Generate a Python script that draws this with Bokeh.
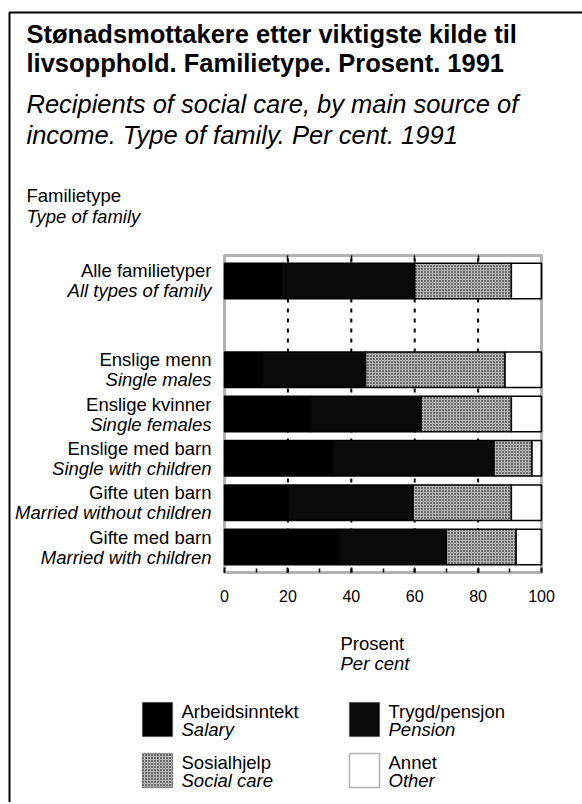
from bokeh.plotting import figure
from bokeh.models import (ColumnDataSource, Range1d, LinearAxis, FixedTicker,
                          SingleIntervalTicker, Label, LabelSet, BoxAnnotation)
from bokeh.transform import stack
from bokeh.core.properties import value
from bokeh.embed import file_html
from bokeh.resources import INLINE

# ---------------- data ----------------
categories = ["Alle familietyper", "Enslige menn", "Enslige kvinner",
              "Enslige med barn", "Gifte uten barn", "Gifte med barn"]
categories_en = ["All types of family", "Single males", "Single females",
                 "Single with children", "Married without children", "Married with children"]
salary = [18, 12, 27, 34, 20, 36]
pension = [42, 32.5, 35, 51, 39.5, 34]
social = [30.5, 44, 28.5, 12, 31, 22]
other = [9.5, 11.5, 9.5, 3, 9.5, 8]
series_keys = ["salary", "pension", "social", "other"]
series_no = ["Arbeidsinntekt", "Trygd/pensjon", "Sosialhjelp", "Annet"]
series_en = ["Salary", "Pension", "Social care", "Other"]
series_colors = ["#000000", "#0a0a0a", "#b4b4b4", "#ffffff"]
series_hatch = [None, None, ".", None]
x_ticks = [0, 20, 40, 60, 80, 100]
blank_row = " "

title_no = ["Stønadsmottakere etter viktigste kilde til", "livsopphold. Familietype. Prosent. 1991"]
title_en = ["Recipients of social care, by main source of", "income. Type of family. Per cent. 1991"]
ylab_no, ylab_en = "Familietype", "Type of family"
xlab_no, xlab_en = "Prosent", "Per cent"

FONT = "Liberation Sans"

# row slots bottom -> top, with an empty slot under "Alle familietyper"
factors = list(reversed(categories[1:])) + [blank_row, categories[0]]
row_y = [factors.index(c) + 0.5 for c in categories]
pad = 0.075
y_lo, y_hi = -pad, len(factors) + pad

src = ColumnDataSource(dict(cat=categories, cat_en=categories_en, y=row_y, salary=salary,
                            pension=pension, social=social, other=other))

# ---------------- page geometry (pixels) ----------------
W, H = 582, 802
PX_L, PX_R = 224, 541      # chart frame left / right
PY_T, PY_B = 255, 572      # chart frame top / bottom
kx = (PX_R - PX_L) / (x_ticks[-1] - x_ticks[0])
ky = (PY_B - PY_T) / (y_hi - y_lo)
def dx(px):
    return x_ticks[0] + (px - PX_L) / kx
def dy(py):
    return y_lo + (PY_B - py) / ky

p = figure(width=W, height=H, output_backend="svg", toolbar_location=None,
           x_range=Range1d(dx(0), dx(W)), y_range=Range1d(dy(H), dy(0)),
           x_axis_location=None, y_axis_location=None,
           min_border=0, min_border_left=0, min_border_right=0,
           min_border_top=0, min_border_bottom=0)
p.background_fill_color = "white"
p.border_fill_color = "white"
p.outline_line_color = None
p.grid.visible = False

# outer box: left and top edges (right / bottom lie outside the page)
p.line(x=[dx(9), dx(9), dx(W + 50)], y=[dy(H + 50), dy(12), dy(12)],
       line_color="black", line_width=2)

# dashed grid lines inside the chart frame
gx = x_ticks[1:-1]
p.segment(x0=gx, x1=gx, y0=[y_lo] * len(gx), y1=[y_hi] * len(gx),
          line_color="black", line_width=2, line_dash="4 6", level="underlay")

# stacked bars
for i, key in enumerate(series_keys):
    kw = dict(y="y", height=0.8, left=stack(*series_keys[:i]), right=stack(*series_keys[:i + 1]),
              source=src, fill_color=series_colors[i], line_color="black", line_width=1.5)
    if series_hatch[i]:
        kw.update(hatch_pattern=series_hatch[i], hatch_color="black", hatch_scale=3, hatch_weight=1.3)
    p.hbar(**kw)

# chart frame
p.add_layout(BoxAnnotation(left=x_ticks[0], right=x_ticks[-1], bottom=y_lo, top=y_hi,
                           fill_alpha=0, line_color="black", line_width=3, level="overlay"))

# axes at the chart frame
xb = LinearAxis(fixed_location=y_lo, bounds=(x_ticks[0], x_ticks[-1]),
                ticker=SingleIntervalTicker(interval=20, num_minor_ticks=2),
                axis_line_color=None, major_tick_in=5, major_tick_out=0,
                minor_tick_in=4, minor_tick_out=0,
                major_tick_line_width=1.5, minor_tick_line_width=1.5,
                major_label_standoff=17, major_label_text_font=FONT,
                major_label_text_font_size="16px", major_label_text_color="black")
p.add_layout(xb, "below")
xt = LinearAxis(fixed_location=y_hi, bounds=(x_ticks[0], x_ticks[-1]),
                ticker=FixedTicker(ticks=gx), axis_line_color=None,
                major_tick_in=5, major_tick_out=0, minor_tick_in=0, minor_tick_out=0,
                major_tick_line_width=1.5, major_label_text_alpha=0)
p.add_layout(xt, "above")

def lab(text, x, y, size, style="normal", align="left"):
    p.add_layout(Label(x=dx(x), y=dy(y), text=text,
                       text_font=FONT, text_font_size=f"{size}px", text_font_style=style,
                       text_color="black", text_align=align, text_baseline="middle"))

lab(title_no[0], 26, 33, 25.5, "bold")
lab(title_no[1], 26, 62, 25.5, "bold")
lab(title_en[0], 26, 103, 25.5, "italic")
lab(title_en[1], 26, 134, 25.5, "italic")
lab(ylab_no, 26, 195, 18.5)
lab(ylab_en, 26, 216, 18.5, "italic")
lab(xlab_no, 340, 643, 18.5)
lab(xlab_en, 340, 663, 18.5, "italic")

# row labels
p.add_layout(LabelSet(x=dx(211), y="y", text="cat", source=src,
                      y_offset=10, text_align="right", text_baseline="middle",
                      text_font=value(FONT), text_font_size="18.5px", text_color="black"))
p.add_layout(LabelSet(x=dx(211), y="y", text="cat_en", source=src,
                      y_offset=-10, text_align="right", text_baseline="middle",
                      text_font=value(FONT), text_font_size="18.5px", text_font_style="italic",
                      text_color="black"))

# legend (2 x 2)
sw_x = [142, 349, 142, 349]
sw_y = [702, 702, 753, 753]
for i in range(4):
    kw = dict(left=dx(sw_x[i]), right=dx(sw_x[i] + 30), top=dy(sw_y[i]), bottom=dy(sw_y[i] + 34),
              fill_color=series_colors[i], fill_alpha=1, line_color="black", line_width=1.5,
              level="overlay")
    if series_hatch[i]:
        kw.update(hatch_pattern=series_hatch[i], hatch_color="black", hatch_scale=3, hatch_weight=1.3)
    p.add_layout(BoxAnnotation(**kw))
    lab(series_no[i], sw_x[i] + 39, sw_y[i] + 9, 18.5)
    lab(series_en[i], sw_x[i] + 39, sw_y[i] + 27, 18.5, "italic")

open("out.html", "w").write(file_html(p, INLINE))
